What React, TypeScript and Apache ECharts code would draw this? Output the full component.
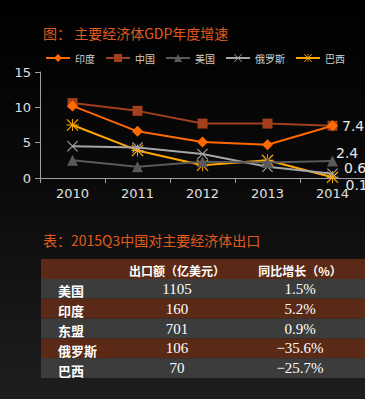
import React, { useEffect, useRef } from "react";
import * as echarts from "echarts";

const years = ["2010", "2011", "2012", "2013", "2014"];
const seriesNames = ["印度", "中国", "美国", "俄罗斯", "巴西"];
const india = [10.2, 6.6, 5.1, 4.7, 7.4];
const china = [10.6, 9.5, 7.7, 7.7, 7.4];
const usa = [2.5, 1.6, 2.3, 2.2, 2.4];
const russia = [4.5, 4.3, 3.4, 1.6, 0.6];
const brazil = [7.5, 3.9, 1.8, 2.5, 0.1];
const yTicks = [0, 5, 10, 15];

const tableHeader = ["", "出口额（亿美元）", "同比增长（%）"];
const tableRows = ["美国", "印度", "东盟", "俄罗斯", "巴西"];
const exportValues = ["1105", "160", "701", "106", "70"];
const growthValues = ["1.5%", "5.2%", "0.9%", "−35.6%", "−25.7%"];

const xSym =
  "path://M0,1.4L1.4,0L20,18.6L18.6,20ZM18.6,0L20,1.4L1.4,20L0,18.6Z";
const starSym =
  "path://M0,1.4L1.4,0L20,18.6L18.6,20ZM18.6,0L20,1.4L1.4,20L0,18.6ZM0,9.2L20,9.2L20,10.8L0,10.8ZM9.2,0L10.8,0L10.8,20L9.2,20Z";

export default function App() {
  const ref = useRef<HTMLDivElement>(null);
  useEffect(() => {
    document.body.style.margin = "0";
    const chart = echarts.init(ref.current!, null, { renderer: "svg" });
    const colors = ["#ff6a00", "#a33f1a", "#595959", "#a6a6a6", "#ffa800"];
    const datas = [india, china, usa, russia, brazil];
    const symbols = ["diamond", "rect", "triangle", xSym, starSym];
    const sizes = [11, 10, 11, 11, 12];
    const labelCfg: any[] = [
      { show: true, position: "right", distance: 4, offset: [0, 0] },
      { show: false },
      { show: true, position: "right", distance: -2, offset: [0, -8] },
      { show: true, position: "right", distance: 6, offset: [0, -6] },
      { show: true, position: "right", distance: 7, offset: [0, 8] },
    ];
    const series = datas.map((d, i) => ({
      name: seriesNames[i],
      type: "line",
      data: d.map((v, j) =>
        j === d.length - 1
          ? {
              value: v,
              label: {
                ...labelCfg[i],
                color: "#e8e8e8",
                fontSize: 14,
                fontFamily: "DejaVu Sans",
                formatter: "{c}",
              },
            }
          : v
      ),
      symbol: symbols[i],
      symbolSize: sizes[i],
      showAllSymbol: true,
      lineStyle: { color: colors[i], width: 2 },
      itemStyle: { color: colors[i] },
      z: 10 - i,
    }));

    const tableTop = 259;
    const headH = 20;
    const rowH = 19.8;
    const left = 41;
    const width = 324;
    const colX = [58, 177, 300];
    const graphics: any[] = [];
    graphics.push({
      type: "rect",
      shape: { x: left, y: tableTop, width, height: headH },
      style: { fill: "#5a2a16" },
    });
    tableHeader.forEach((h, k) => {
      if (!h) return;
      graphics.push({
        type: "text",
        x: colX[k],
        y: tableTop + headH / 2 + 1,
        style: {
          text: h,
          fill: "#ffffff",
          font: "bold 12px 'Noto Sans CJK SC'",
          align: "center",
          verticalAlign: "middle",
        },
      });
    });
    tableRows.forEach((r, k) => {
      const y = tableTop + headH + k * rowH;
      graphics.push({
        type: "rect",
        shape: { x: left, y, width, height: rowH },
        style: { fill: k % 2 === 0 ? "#3c3c3c" : "#5a2a16" },
      });
      graphics.push({
        type: "text",
        x: colX[0],
        y: y + rowH / 2 + 2,
        style: {
          text: r,
          fill: "#ffffff",
          font: "bold 13px 'Noto Sans CJK SC'",
          align: "left",
          verticalAlign: "middle",
        },
      });
      graphics.push({
        type: "text",
        x: colX[1],
        y: y + rowH / 2,
        style: {
          text: exportValues[k],
          fill: "#ffffff",
          font: "15px 'Liberation Serif'",
          align: "center",
          verticalAlign: "middle",
        },
      });
      graphics.push({
        type: "text",
        x: colX[2],
        y: y + rowH / 2,
        style: {
          text: growthValues[k],
          fill: "#ffffff",
          font: "15px 'Liberation Serif'",
          align: "center",
          verticalAlign: "middle",
        },
      });
    });
    graphics.push({
      type: "text",
      x: 43,
      y: 240,
      style: {
        text: "表：2015Q3中国对主要经济体出口",
        fill: "#e05a1e",
        font: "14px 'Noto Sans CJK SC'",
        verticalAlign: "middle",
      },
    });

    chart.setOption({
      animation: false,
      backgroundColor: {
        type: "linear",
        x: 0,
        y: 0,
        x2: 0,
        y2: 1,
        colorStops: [
          { offset: 0, color: "#000000" },
          { offset: 0.45, color: "#0a0a0a" },
          { offset: 1, color: "#1e1e1e" },
        ],
      },
      title: {
        text: "图： 主要经济体GDP年度增速",
        left: 38,
        top: 21,
        textStyle: {
          color: "#e05a1e",
          fontSize: 14,
          fontWeight: "normal",
          fontFamily: "Noto Sans CJK SC",
        },
      },
      legend: {
        left: 40,
        top: 48,
        itemWidth: 24,
        itemHeight: 10,
        itemGap: 10,
        data: seriesNames,
        textStyle: { color: "#d0d0d0", fontSize: 10, fontFamily: "Noto Sans CJK SC" },
      },
      grid: { left: 40, right: 0, top: 72, bottom: 221, containLabel: false },
      xAxis: {
        type: "category",
        data: years,
        boundaryGap: true,
        axisLine: { lineStyle: { color: "#a0a0a0", width: 1 } },
        axisTick: { show: true, length: 5, lineStyle: { color: "#a0a0a0" } },
        axisLabel: { color: "#e0e0e0", fontSize: 13, margin: 9, fontFamily: "DejaVu Sans" },
      },
      yAxis: {
        type: "value",
        min: yTicks[0],
        max: yTicks[yTicks.length - 1],
        interval: 5,
        axisLine: { show: true, lineStyle: { color: "#a0a0a0", width: 1 } },
        axisTick: { show: true, length: 5, lineStyle: { color: "#a0a0a0" } },
        splitLine: { show: false },
        axisLabel: { color: "#e0e0e0", fontSize: 13, margin: 9, fontFamily: "DejaVu Sans" },
      },
      series,
      graphic: graphics,
    });
    return () => chart.dispose();
  }, []);
  return <div ref={ref} style={{ width: 365, height: 399 }} />;
}
